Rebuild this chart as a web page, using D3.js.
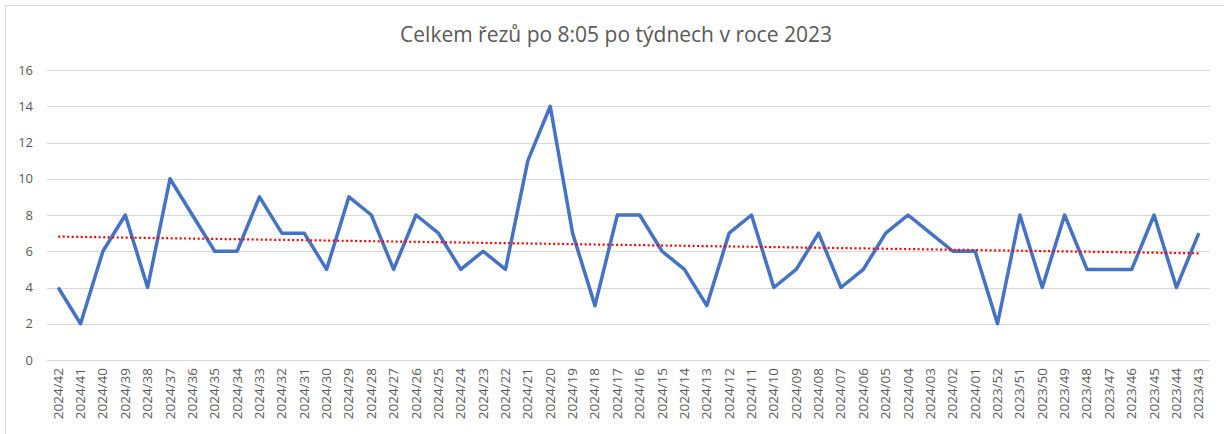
<!DOCTYPE html>
<html>
<head>
<meta charset="utf-8">
<script src="https://cdn.jsdelivr.net/npm/d3@7"></script>
<style>
  body { margin: 0; background: #fff; }
  text { font-family: "Open Sans", "Noto Sans", sans-serif; fill: #595959; }
</style>
</head>
<body>
<div id="chart"></div>
<script>
var weeks = ["2024/42","2024/41","2024/40","2024/39","2024/38","2024/37","2024/36","2024/35","2024/34","2024/33",
  "2024/32","2024/31","2024/30","2024/29","2024/28","2024/27","2024/26","2024/25","2024/24","2024/23",
  "2024/22","2024/21","2024/20","2024/19","2024/18","2024/17","2024/16","2024/15","2024/14","2024/13",
  "2024/12","2024/11","2024/10","2024/09","2024/08","2024/07","2024/06","2024/05","2024/04","2024/03",
  "2024/02","2024/01","2023/52","2023/51","2023/50","2023/49","2023/48","2023/47","2023/46","2023/45",
  "2023/44","2023/43"];
var counts = [4,2,6,8,4,10,8,6,6,9,
  7,7,5,9,8,5,8,7,5,6,
  5,11,14,7,3,8,8,6,5,3,
  7,8,4,5,7,4,5,7,8,7,
  6,6,2,8,4,8,5,5,5,8,
  4,7];
var yTicks = [0,2,4,6,8,10,12,14,16];
var title = "Celkem řezů po 8:05 po týdnech v roce 2023";

var width = 1224, height = 434;
var margin = {top: 70, right: 14, bottom: 74, left: 47};
var plotW = width - margin.left - margin.right,
    plotH = height - margin.top - margin.bottom;

var svg = d3.select("#chart").append("svg")
    .attr("width", width)
    .attr("height", height);

svg.append("rect")
    .attr("x", 5.5).attr("y", 5.5)
    .attr("width", width + 10).attr("height", height + 10)
    .attr("fill", "none")
    .attr("stroke", "#d9d9d9");

svg.append("text")
    .attr("x", 616)
    .attr("y", 42)
    .attr("text-anchor", "middle")
    .style("font-size", "21px")
    .text(title);

var g = svg.append("g")
    .attr("transform", "translate(" + margin.left + "," + margin.top + ")");

var x = d3.scaleBand().domain(weeks).range([0, plotW]);
var y = d3.scaleLinear().domain([0, 16]).range([plotH, 0]);

// gridlines
g.append("g").selectAll("line")
    .data(yTicks)
    .enter().append("line")
    .attr("x1", 0).attr("x2", plotW)
    .attr("y1", d => Math.round(y(d)) + 0.5)
    .attr("y2", d => Math.round(y(d)) + 0.5)
    .attr("stroke", "#d9d9d9")
    .attr("stroke-width", 1);

// y labels
g.append("g").selectAll("text")
    .data(yTicks)
    .enter().append("text")
    .attr("x", -14)
    .attr("y", d => y(d))
    .attr("dy", "0.35em")
    .attr("text-anchor", "end")
    .style("font-size", "13px")
    .text(d => d);

// x labels
g.append("g").selectAll("text")
    .data(weeks)
    .enter().append("text")
    .attr("transform", d => "translate(" + (x(d) + x.bandwidth() / 2 + 4.5) + "," + (plotH + 8) + ") rotate(-90)")
    .attr("text-anchor", "end")
    .style("font-size", "13.5px")
    .text(d => d);

// data line
var pts = weeks.map((w, i) => ({w: w, v: counts[i]}));
g.append("path")
    .datum(pts)
    .attr("fill", "none")
    .attr("stroke", "#4472c4")
    .attr("stroke-width", 3.5)
    .attr("stroke-linejoin", "round")
    .attr("d", d3.line()
        .x(d => x(d.w) + x.bandwidth() / 2)
        .y(d => y(d.v)));

// linear trend (least squares over index)
var n = counts.length;
var mx = d3.mean(counts, (d, i) => i), my = d3.mean(counts);
var sxy = d3.sum(counts, (d, i) => (i - mx) * (d - my));
var sxx = d3.sum(counts, (d, i) => (i - mx) * (i - mx));
var slope = sxy / sxx, icpt = my - slope * mx;
var trend = [0, n - 1].map(i => ({w: weeks[i], v: icpt + slope * i}));

g.append("path")
    .datum(trend)
    .attr("fill", "none")
    .attr("stroke", "#ff0000")
    .attr("stroke-width", 2.2)
    .attr("stroke-dasharray", "2,2.5")
    .attr("d", d3.line()
        .x(d => x(d.w) + x.bandwidth() / 2)
        .y(d => y(d.v)));
</script>
</body>
</html>
